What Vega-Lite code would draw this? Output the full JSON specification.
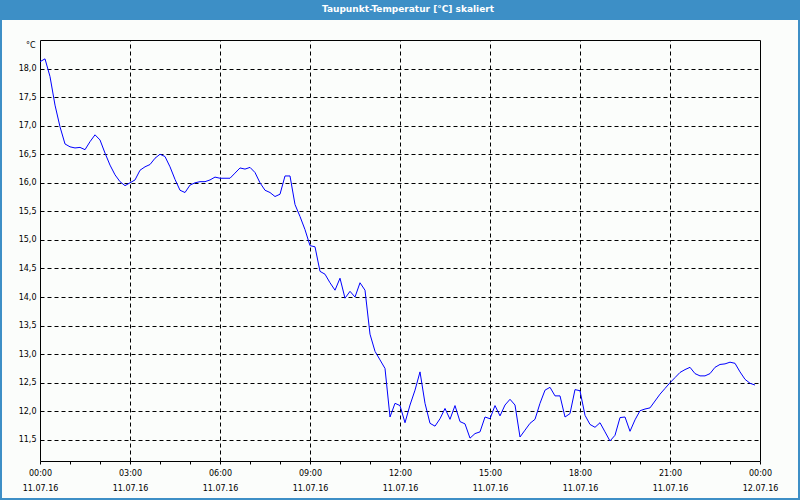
{
  "$schema": "https://vega.github.io/schema/vega-lite/v6.json",
  "width": 796,
  "height": 478,
  "autosize": "none",
  "padding": {"top": 20, "left": 2, "right": 2, "bottom": 2},
  "background": "#3d8fc6",
  "title": {
    "text": "Taupunkt-Temperatur [°C] skaliert",
    "color": "#ffffff",
    "font": "DejaVu Sans",
    "fontSize": 9,
    "fontWeight": "bold",
    "anchor": "middle",
    "frame": "group",
    "baseline": "middle",
    "offset": 2,
    "dx": 8
  },
  "config": {
    "view": {"fill": "#fbfdfb", "stroke": null},
    "axis": {
      "labelFont": "DejaVu Sans",
      "labelFontSize": 8,
      "labelColor": "#000000",
      "titleFont": "DejaVu Sans",
      "titleFontSize": 8,
      "titleFontWeight": "normal",
      "titleColor": "#000000",
      "domainColor": "#000000",
      "domainWidth": 1,
      "tickColor": "#000000",
      "gridColor": "#000000",
      "gridOpacity": 1,
      "gridWidth": 1,
      "gridDash": [4, 3],
      "labelOverlap": false,
      "labelFlush": false,
      "labelBound": false
    }
  },
  "data": {
    "values": [
      {"t": "2016-07-11T00:00:00Z", "v": 18.12},
      {"t": "2016-07-11T00:10:00Z", "v": 18.17},
      {"t": "2016-07-11T00:20:00Z", "v": 17.86},
      {"t": "2016-07-11T00:30:00Z", "v": 17.36},
      {"t": "2016-07-11T00:40:00Z", "v": 16.98},
      {"t": "2016-07-11T00:50:00Z", "v": 16.68},
      {"t": "2016-07-11T01:00:00Z", "v": 16.63},
      {"t": "2016-07-11T01:10:00Z", "v": 16.61},
      {"t": "2016-07-11T01:20:00Z", "v": 16.62},
      {"t": "2016-07-11T01:30:00Z", "v": 16.58},
      {"t": "2016-07-11T01:40:00Z", "v": 16.72},
      {"t": "2016-07-11T01:50:00Z", "v": 16.84},
      {"t": "2016-07-11T02:00:00Z", "v": 16.75},
      {"t": "2016-07-11T02:10:00Z", "v": 16.52},
      {"t": "2016-07-11T02:20:00Z", "v": 16.31},
      {"t": "2016-07-11T02:30:00Z", "v": 16.14},
      {"t": "2016-07-11T02:40:00Z", "v": 16.02},
      {"t": "2016-07-11T02:50:00Z", "v": 15.95},
      {"t": "2016-07-11T03:00:00Z", "v": 16.0},
      {"t": "2016-07-11T03:10:00Z", "v": 16.05},
      {"t": "2016-07-11T03:20:00Z", "v": 16.22},
      {"t": "2016-07-11T03:30:00Z", "v": 16.28},
      {"t": "2016-07-11T03:40:00Z", "v": 16.32},
      {"t": "2016-07-11T03:50:00Z", "v": 16.43},
      {"t": "2016-07-11T04:00:00Z", "v": 16.5},
      {"t": "2016-07-11T04:10:00Z", "v": 16.46},
      {"t": "2016-07-11T04:20:00Z", "v": 16.28},
      {"t": "2016-07-11T04:30:00Z", "v": 16.06},
      {"t": "2016-07-11T04:40:00Z", "v": 15.87},
      {"t": "2016-07-11T04:50:00Z", "v": 15.83},
      {"t": "2016-07-11T05:00:00Z", "v": 15.96},
      {"t": "2016-07-11T05:10:00Z", "v": 16.0},
      {"t": "2016-07-11T05:20:00Z", "v": 16.02},
      {"t": "2016-07-11T05:30:00Z", "v": 16.02},
      {"t": "2016-07-11T05:40:00Z", "v": 16.05},
      {"t": "2016-07-11T05:50:00Z", "v": 16.1},
      {"t": "2016-07-11T06:00:00Z", "v": 16.08},
      {"t": "2016-07-11T06:10:00Z", "v": 16.08},
      {"t": "2016-07-11T06:20:00Z", "v": 16.08},
      {"t": "2016-07-11T06:30:00Z", "v": 16.17},
      {"t": "2016-07-11T06:40:00Z", "v": 16.26},
      {"t": "2016-07-11T06:50:00Z", "v": 16.24},
      {"t": "2016-07-11T07:00:00Z", "v": 16.27},
      {"t": "2016-07-11T07:10:00Z", "v": 16.18},
      {"t": "2016-07-11T07:20:00Z", "v": 16.0},
      {"t": "2016-07-11T07:30:00Z", "v": 15.87},
      {"t": "2016-07-11T07:40:00Z", "v": 15.83},
      {"t": "2016-07-11T07:50:00Z", "v": 15.76},
      {"t": "2016-07-11T08:00:00Z", "v": 15.8},
      {"t": "2016-07-11T08:10:00Z", "v": 16.12},
      {"t": "2016-07-11T08:20:00Z", "v": 16.12},
      {"t": "2016-07-11T08:30:00Z", "v": 15.62},
      {"t": "2016-07-11T08:40:00Z", "v": 15.41},
      {"t": "2016-07-11T08:50:00Z", "v": 15.18},
      {"t": "2016-07-11T09:00:00Z", "v": 14.9},
      {"t": "2016-07-11T09:10:00Z", "v": 14.88},
      {"t": "2016-07-11T09:20:00Z", "v": 14.45},
      {"t": "2016-07-11T09:30:00Z", "v": 14.4},
      {"t": "2016-07-11T09:40:00Z", "v": 14.25},
      {"t": "2016-07-11T09:50:00Z", "v": 14.12},
      {"t": "2016-07-11T10:00:00Z", "v": 14.33},
      {"t": "2016-07-11T10:10:00Z", "v": 13.98},
      {"t": "2016-07-11T10:20:00Z", "v": 14.1},
      {"t": "2016-07-11T10:30:00Z", "v": 14.0},
      {"t": "2016-07-11T10:40:00Z", "v": 14.25},
      {"t": "2016-07-11T10:50:00Z", "v": 14.12},
      {"t": "2016-07-11T11:00:00Z", "v": 13.35},
      {"t": "2016-07-11T11:10:00Z", "v": 13.05},
      {"t": "2016-07-11T11:20:00Z", "v": 12.9},
      {"t": "2016-07-11T11:30:00Z", "v": 12.75},
      {"t": "2016-07-11T11:40:00Z", "v": 11.9},
      {"t": "2016-07-11T11:50:00Z", "v": 12.14},
      {"t": "2016-07-11T12:00:00Z", "v": 12.1},
      {"t": "2016-07-11T12:10:00Z", "v": 11.8},
      {"t": "2016-07-11T12:20:00Z", "v": 12.11},
      {"t": "2016-07-11T12:30:00Z", "v": 12.37},
      {"t": "2016-07-11T12:40:00Z", "v": 12.69},
      {"t": "2016-07-11T12:50:00Z", "v": 12.14},
      {"t": "2016-07-11T13:00:00Z", "v": 11.79},
      {"t": "2016-07-11T13:10:00Z", "v": 11.74},
      {"t": "2016-07-11T13:20:00Z", "v": 11.87},
      {"t": "2016-07-11T13:30:00Z", "v": 12.05},
      {"t": "2016-07-11T13:40:00Z", "v": 11.86},
      {"t": "2016-07-11T13:50:00Z", "v": 12.1},
      {"t": "2016-07-11T14:00:00Z", "v": 11.82},
      {"t": "2016-07-11T14:10:00Z", "v": 11.78},
      {"t": "2016-07-11T14:20:00Z", "v": 11.53},
      {"t": "2016-07-11T14:30:00Z", "v": 11.61},
      {"t": "2016-07-11T14:40:00Z", "v": 11.64},
      {"t": "2016-07-11T14:50:00Z", "v": 11.9},
      {"t": "2016-07-11T15:00:00Z", "v": 11.87},
      {"t": "2016-07-11T15:10:00Z", "v": 12.1},
      {"t": "2016-07-11T15:20:00Z", "v": 11.92},
      {"t": "2016-07-11T15:30:00Z", "v": 12.11},
      {"t": "2016-07-11T15:40:00Z", "v": 12.21},
      {"t": "2016-07-11T15:50:00Z", "v": 12.11},
      {"t": "2016-07-11T16:00:00Z", "v": 11.55},
      {"t": "2016-07-11T16:10:00Z", "v": 11.67},
      {"t": "2016-07-11T16:20:00Z", "v": 11.79},
      {"t": "2016-07-11T16:30:00Z", "v": 11.86},
      {"t": "2016-07-11T16:40:00Z", "v": 12.14},
      {"t": "2016-07-11T16:50:00Z", "v": 12.37},
      {"t": "2016-07-11T17:00:00Z", "v": 12.42},
      {"t": "2016-07-11T17:10:00Z", "v": 12.27},
      {"t": "2016-07-11T17:20:00Z", "v": 12.27},
      {"t": "2016-07-11T17:30:00Z", "v": 11.9},
      {"t": "2016-07-11T17:40:00Z", "v": 11.96},
      {"t": "2016-07-11T17:50:00Z", "v": 12.38},
      {"t": "2016-07-11T18:00:00Z", "v": 12.36},
      {"t": "2016-07-11T18:10:00Z", "v": 11.93},
      {"t": "2016-07-11T18:20:00Z", "v": 11.77},
      {"t": "2016-07-11T18:30:00Z", "v": 11.72},
      {"t": "2016-07-11T18:40:00Z", "v": 11.8},
      {"t": "2016-07-11T18:50:00Z", "v": 11.64},
      {"t": "2016-07-11T19:00:00Z", "v": 11.48},
      {"t": "2016-07-11T19:10:00Z", "v": 11.58},
      {"t": "2016-07-11T19:20:00Z", "v": 11.89},
      {"t": "2016-07-11T19:30:00Z", "v": 11.9},
      {"t": "2016-07-11T19:40:00Z", "v": 11.65},
      {"t": "2016-07-11T19:50:00Z", "v": 11.85},
      {"t": "2016-07-11T20:00:00Z", "v": 12.01},
      {"t": "2016-07-11T20:10:00Z", "v": 12.04},
      {"t": "2016-07-11T20:20:00Z", "v": 12.06},
      {"t": "2016-07-11T20:30:00Z", "v": 12.18},
      {"t": "2016-07-11T20:40:00Z", "v": 12.3},
      {"t": "2016-07-11T20:50:00Z", "v": 12.4},
      {"t": "2016-07-11T21:00:00Z", "v": 12.5},
      {"t": "2016-07-11T21:10:00Z", "v": 12.59},
      {"t": "2016-07-11T21:20:00Z", "v": 12.68},
      {"t": "2016-07-11T21:30:00Z", "v": 12.73},
      {"t": "2016-07-11T21:40:00Z", "v": 12.77},
      {"t": "2016-07-11T21:50:00Z", "v": 12.66},
      {"t": "2016-07-11T22:00:00Z", "v": 12.62},
      {"t": "2016-07-11T22:10:00Z", "v": 12.62},
      {"t": "2016-07-11T22:20:00Z", "v": 12.66},
      {"t": "2016-07-11T22:30:00Z", "v": 12.77},
      {"t": "2016-07-11T22:40:00Z", "v": 12.82},
      {"t": "2016-07-11T22:50:00Z", "v": 12.83},
      {"t": "2016-07-11T23:00:00Z", "v": 12.86},
      {"t": "2016-07-11T23:10:00Z", "v": 12.84},
      {"t": "2016-07-11T23:20:00Z", "v": 12.69},
      {"t": "2016-07-11T23:30:00Z", "v": 12.56},
      {"t": "2016-07-11T23:40:00Z", "v": 12.49},
      {"t": "2016-07-11T23:50:00Z", "v": 12.46}
    ]
  },
  "layer": [
    {
      "mark": {"type": "line", "strokeOpacity": 0},
      "encoding": {
        "x": {
          "field": "t",
          "type": "temporal",
          "scale": {
            "type": "utc",
            "nice": false,
            "domain": [1468195200000, 1468281600000],
            "range": [38, 758]
          },
          "axis": {
            "orient": "bottom",
            "offset": -37,
            "title": null,
            "grid": false,
            "domain": true,
            "ticks": true,
            "tickSize": 3,
            "values": [1468195200000, 1468198800000, 1468202400000, 1468206000000, 1468209600000, 1468213200000, 1468216800000, 1468220400000, 1468224000000, 1468227600000, 1468231200000, 1468234800000, 1468238400000, 1468242000000, 1468245600000, 1468249200000, 1468252800000, 1468256400000, 1468260000000, 1468263600000, 1468267200000, 1468270800000, 1468274400000, 1468278000000, 1468281600000],
            "labelPadding": 5,
            "labelLineHeight": 15,
            "labelAlign": "center",
            "labelExpr": "utchours(datum.value) % 3 == 0 ? [utcFormat(datum.value, '%H:%M'), utcFormat(datum.value, '%d.%m.%y')] : ''"
          }
        },
        "y": {
          "field": "v",
          "type": "quantitative",
          "scale": {"domain": [11.13, 18.5], "range": [441, 20], "nice": false, "zero": false},
          "axis": {
            "orient": "left",
            "offset": -38,
            "title": "°C",
            "titleAngle": 0,
            "titleAlign": "right",
            "titleBaseline": "middle",
            "titleX": -5,
            "titleY": 25,
            "grid": true,
            "domain": true,
            "ticks": false,
            "labelPadding": 4,
            "values": [11.5, 12, 12.5, 13, 13.5, 14, 14.5, 15, 15.5, 16, 16.5, 17, 17.5, 18],
            "labelExpr": "replace(format(datum.value, '.1f'), '.', ',')"
          }
        }
      }
    },
    {
      "mark": {"type": "line", "color": "#0000ff", "strokeWidth": 1},
      "encoding": {
        "x": {
          "field": "t",
          "type": "temporal",
          "axis": {
            "orient": "top",
            "offset": -20,
            "title": null,
            "grid": true,
            "domain": true,
            "ticks": false,
            "labels": false,
            "values": [1468206000000, 1468216800000, 1468227600000, 1468238400000, 1468249200000, 1468260000000, 1468270800000]
          }
        },
        "y": {
          "field": "v",
          "type": "quantitative",
          "axis": {
            "orient": "right",
            "offset": -38,
            "title": null,
            "grid": false,
            "domain": true,
            "ticks": false,
            "labels": false
          }
        }
      }
    }
  ],
  "resolve": {"axis": {"x": "independent", "y": "independent"}}
}
